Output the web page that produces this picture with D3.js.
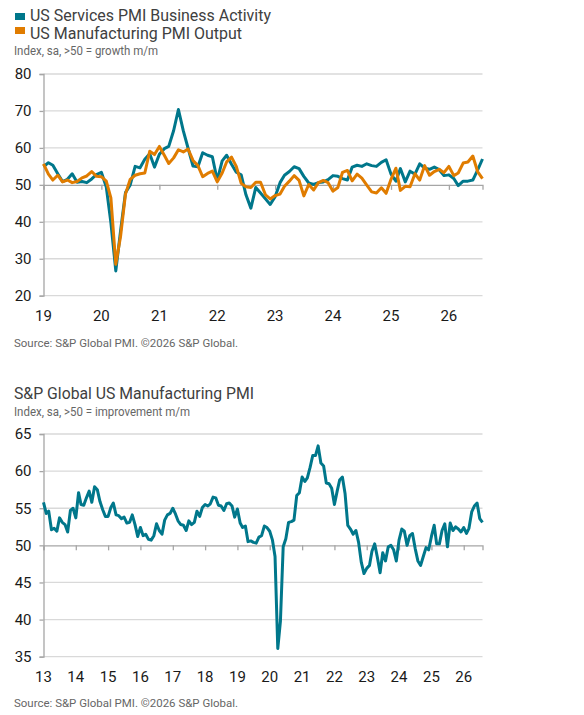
<!DOCTYPE html>
<html>
<head>
<meta charset="utf-8">
<script src="https://cdn.jsdelivr.net/npm/d3@7"></script>
<style>
  body { margin: 0; background: #fff; }
  svg { display: block; }
</style>
</head>
<body>
<div id="chart"></div>
<script>
// ---- data ----

// top panel: Jan 2019 .. Aug 2026, monthly
var servicesActivity = [
  54.9, 56.0, 55.3, 53.0, 50.9, 51.5, 53.0, 50.7, 50.9, 50.6, 51.6, 52.8,
  53.4, 49.4, 39.8, 26.7, 37.5, 47.9, 50.0, 55.0, 54.6, 56.9, 58.4, 54.8,
  58.3, 59.8, 60.4, 64.7, 70.4, 64.6, 59.9, 55.1, 54.9, 58.7, 58.0, 57.6,
  51.2, 56.5, 58.0, 55.6, 53.4, 52.7, 47.3, 43.7, 49.3, 47.8, 46.2, 44.7,
  46.8, 50.6, 52.6, 53.6, 54.9, 54.4, 52.3, 50.5, 50.1, 50.6, 50.8, 51.4,
  52.5, 52.3, 51.7, 51.3, 54.8, 55.3, 55.0, 55.7, 55.2, 55.0, 56.1, 56.8,
  52.9, 51.0, 54.4, 50.8, 53.7, 52.9, 55.7, 54.5, 54.2, 54.8, 54.1, 52.5,
  52.7, 51.7, 49.8, 51.0, 51.0, 51.3, 54.0, 57.0
];
var mfgOutput = [
  55.7, 52.9, 51.3, 52.6, 50.8, 51.3, 50.6, 50.9, 51.9, 52.4, 53.6, 52.3,
  52.2, 51.0, 46.5, 28.5, 36.0, 47.5, 51.5, 52.6, 53.0, 53.2, 59.1, 58.2,
  60.4, 58.0, 55.8, 57.3, 59.5, 58.9, 59.7, 56.6, 55.2, 52.2, 53.1, 53.7,
  50.8, 53.2, 56.2, 57.5, 55.0, 50.4, 49.5, 49.3, 50.7, 50.7, 47.3, 46.2,
  47.1, 47.5, 49.6, 51.0, 52.5, 51.2, 47.0, 50.1, 48.6, 50.6, 51.2, 50.6,
  48.3, 49.3, 53.4, 53.9, 51.1, 52.9, 51.8, 49.9, 48.1, 47.8, 49.2, 47.7,
  51.5, 54.5, 48.5, 49.6, 49.5, 53.0, 51.3, 55.2, 52.6, 53.6, 54.2, 53.3,
  55.0, 52.5, 53.2, 55.9, 56.2, 57.8, 53.6, 51.7
];
var topStart = [2019, 0];
var topYearLabels = ["19", "20", "21", "22", "23", "24", "25", "26"];
var topYTicks = [20, 30, 40, 50, 60, 70, 80];

// bottom panel: Jan 2013 .. Aug 2026, monthly
var mfgPmi = [
  55.8, 54.3, 54.6, 52.1, 52.3, 51.9, 53.7, 53.1, 52.8, 51.8, 54.7, 55.0,
  53.7, 57.1, 55.5, 55.4, 56.4, 57.3, 55.8, 57.9, 57.5, 55.9, 54.8, 53.9,
  53.9, 55.1, 55.7, 54.1, 54.0, 53.6, 53.8, 53.0, 53.1, 54.1, 52.8, 51.2,
  52.4, 51.3, 51.5, 50.8, 50.7, 51.3, 52.9, 52.0, 51.5, 53.4, 54.1, 54.3,
  55.0, 54.2, 53.3, 52.8, 52.7, 52.0, 53.3, 52.8, 53.1, 54.6, 53.9, 55.1,
  55.5, 55.3, 55.6, 56.5, 56.4, 55.4, 55.3, 54.7, 55.6, 55.7, 55.3, 53.8,
  54.9, 53.0, 52.4, 52.6, 50.5, 50.6, 50.4, 50.3, 51.1, 51.3, 52.6, 52.4,
  51.9, 50.7, 48.5, 36.1, 39.8, 49.8, 50.9, 53.1, 53.2, 53.4, 56.7, 57.1,
  59.2, 58.6, 59.1, 60.5, 62.1, 62.1, 63.4, 61.1, 60.7, 58.4, 58.3, 57.7,
  55.5, 57.3, 58.8, 59.2, 57.0, 52.7, 52.2, 51.5, 52.0, 50.4, 47.7, 46.2,
  46.9, 47.3, 49.2, 50.2, 48.4, 46.3, 49.0, 47.9, 49.8, 50.0, 49.4, 47.9,
  50.7, 52.2, 51.9, 50.0, 51.3, 51.6, 49.6, 47.9, 47.3, 48.5, 49.7, 49.4,
  51.2, 52.7, 50.2, 50.2, 52.0, 52.9, 49.8, 53.0, 52.0, 52.5, 52.2, 51.8,
  52.4, 51.6, 52.3, 54.5, 55.3, 55.7, 53.6, 53.1
];
var bottomStart = [2013, 0];
var bottomYearLabels = ["13", "14", "15", "16", "17", "18", "19", "20",
                        "21", "22", "23", "24", "25", "26"];
var bottomYTicks = [35, 40, 45, 50, 55, 60, 65];

var teal = "#00778b";
var orange = "#e07c00";
var textFont = "Roboto, 'Liberation Sans', Arial, sans-serif";
var tickFont = "'Liberation Sans Narrow', 'Arial Narrow', Roboto, sans-serif";

var svg = d3.select("#chart")
  .append("svg")
  .attr("width", 584)
  .attr("height", 715);

// helper: text squeezed to a given width
var label = function(x, y, str, size, color, width) {
  var t = svg.append("text")
    .attr("x", x)
    .attr("y", y)
    .style("font-family", textFont)
    .style("font-size", size + "px")
    .style("fill", color)
    .text(str);
  if (width) {
    t.attr("textLength", width).attr("lengthAdjust", "spacingAndGlyphs");
  }
  return t;
};

// draw one panel (grid, axes, lines)
var drawPanel = function(cfg) {
  var start = new Date(cfg.start[0], cfg.start[1], 1);
  var n = cfg.series[0].values.length;
  var end = d3.timeMonth.offset(start, n - 1);

  var x = d3.scaleTime().domain([start, end]).range([cfg.left, cfg.right]);
  var y = d3.scaleLinear()
    .domain([cfg.yTicks[0], cfg.yTicks[cfg.yTicks.length - 1]])
    .range([cfg.bottom, cfg.top]);

  var g = svg.append("g");

  // gridlines
  g.selectAll(".grid")
    .data(cfg.yTicks.filter(function(v) { return v !== 50; }))
    .enter().append("line")
    .attr("x1", cfg.left).attr("x2", cfg.right)
    .attr("y1", function(d) { return y(d); })
    .attr("y2", function(d) { return y(d); })
    .style("stroke", "#d9d9d9")
    .style("stroke-width", 1.3);

  // y axis
  var yAxis = g.append("g")
    .attr("transform", "translate(" + cfg.left + ",0)")
    .call(d3.axisLeft(y).tickValues(cfg.yTicks).tickSize(4).tickPadding(8));
  yAxis.select(".domain").style("stroke", "#a6a6a6").style("stroke-width", 1.3);
  yAxis.selectAll(".tick line").style("stroke", "#a6a6a6").style("stroke-width", 1.3);
  yAxis.selectAll("text")
    .style("font-family", tickFont)
    .style("font-size", "15px")
    .style("fill", "#1a1a1a");

  // x axis on the 50 line, labels at the bottom
  var years = cfg.yearLabels.map(function(s, i) {
    return new Date(cfg.start[0] + i, 0, 1);
  });
  var xAxis = g.append("g")
    .attr("transform", "translate(0," + y(50) + ")")
    .call(d3.axisBottom(x).tickValues(years).tickSize(5).tickFormat(""));
  xAxis.select(".domain").style("stroke", "#a6a6a6").style("stroke-width", 1.3);
  xAxis.selectAll(".tick line").style("stroke", "#a6a6a6").style("stroke-width", 1.3);

  g.selectAll(".xlab")
    .data(years)
    .enter().append("text")
    .attr("x", function(d) { return x(d); })
    .attr("y", cfg.labelY)
    .attr("text-anchor", "middle")
    .style("font-family", tickFont)
    .style("font-size", "15px")
    .style("fill", "#1a1a1a")
    .text(function(d, i) { return cfg.yearLabels[i]; });

  // series lines
  var line = d3.line()
    .x(function(d, i) { return x(d3.timeMonth.offset(start, i)); })
    .y(function(d) { return y(d); });

  cfg.series.forEach(function(s) {
    g.append("path")
      .datum(s.values)
      .attr("d", line)
      .style("fill", "none")
      .style("stroke", s.color)
      .style("stroke-width", 3)
      .style("stroke-linejoin", "round");
  });
};

// ---- top panel ----
svg.append("rect").attr("x", 15).attr("y", 13).attr("width", 10).attr("height", 7).style("fill", teal);
svg.append("rect").attr("x", 15).attr("y", 27).attr("width", 10).attr("height", 7).style("fill", orange);
label(30, 21, "US Services PMI Business Activity", 16.5, "#404040", 241);
label(30, 39, "US Manufacturing PMI Output", 16.5, "#404040", 212);
label(14, 55, "Index, sa, >50 = growth m/m", 12, "#666", 144);

drawPanel({
  start: topStart,
  series: [
    { values: servicesActivity, color: teal },
    { values: mfgOutput, color: orange }
  ],
  yTicks: topYTicks,
  yearLabels: topYearLabels,
  left: 43.5, right: 482.5, top: 74, bottom: 295.7,
  labelY: 321
});

label(14, 347, "Source: S&P Global PMI. \u00a92026 S&P Global.", 11.5, "#666", 224);

// ---- bottom panel ----
label(14, 399, "S&P Global US Manufacturing PMI", 16.5, "#404040", 240);
label(14, 416, "Index, sa, >50 = improvement m/m", 12, "#666", 176);

drawPanel({
  start: bottomStart,
  series: [
    { values: mfgPmi, color: teal }
  ],
  yTicks: bottomYTicks,
  yearLabels: bottomYearLabels,
  left: 43.5, right: 482.5, top: 434, bottom: 656.7,
  labelY: 682
});

label(14, 707, "Source: S&P Global PMI. \u00a92026 S&P Global.", 11.5, "#666", 224);
</script>
</body>
</html>
